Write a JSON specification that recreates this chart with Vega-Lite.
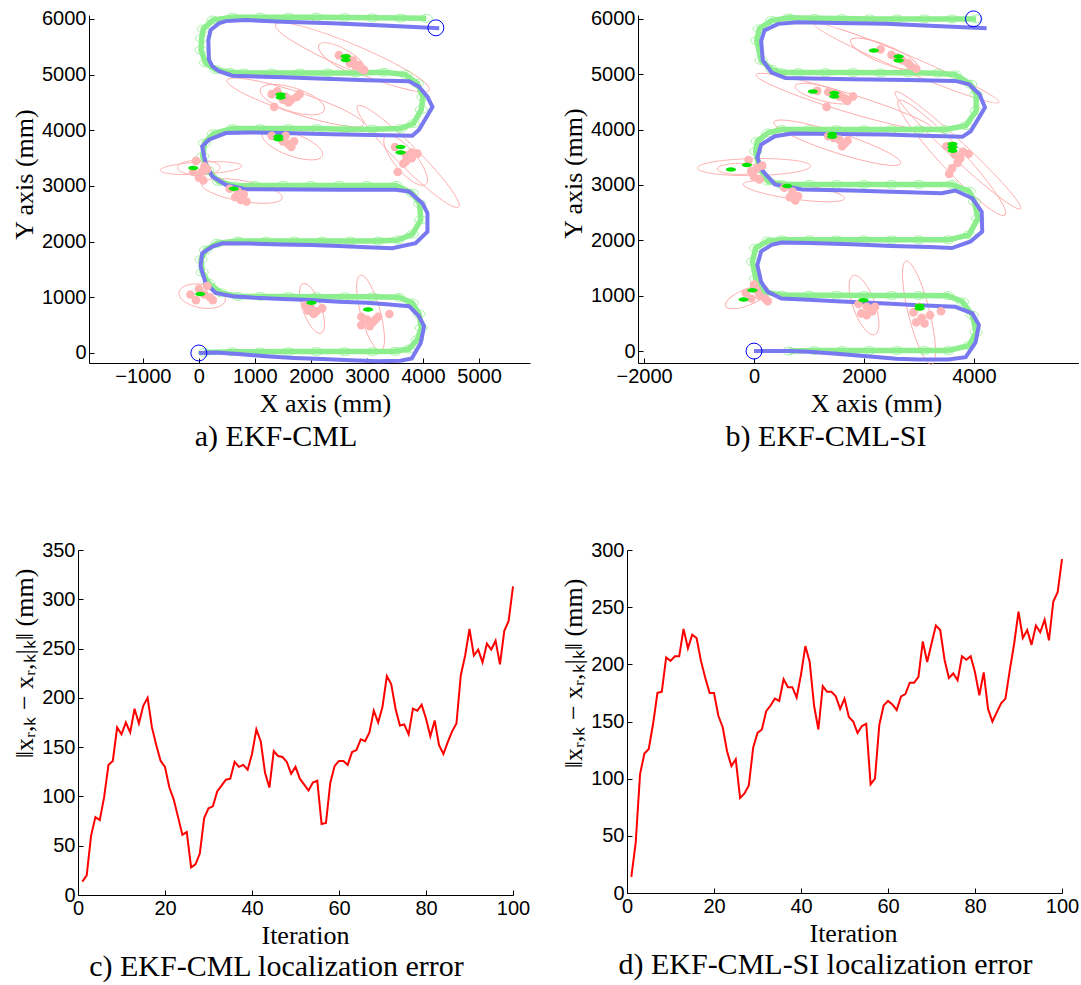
{
"$schema":"https://vega.github.io/schema/vega-lite/v6.json",
"background":"white",
"padding":{"left":11,"top":6,"right":0,"bottom":0},
"config":{
 "view":{"stroke":null},
 "axis":{"grid":false,"domainColor":"#000","tickColor":"#000","domainWidth":1,"tickWidth":1,"tickSize":-5,"labelPadding":8,"labelFont":"Liberation Sans","labelFontSize":20,"labelColor":"#000","labelFlush":false,"labelOverlap":false,"titleFont":"Liberation Serif","titleFontSize":26,"titleFontWeight":"normal","titleColor":"#000"},
 "title":{"font":"Liberation Serif","fontSize":30,"fontWeight":"normal","color":"#000","orient":"bottom","anchor":"middle","frame":"group"}
},
"datasets":{
 "err":[
{"k":1,"c":13.6,"d":14},{"k":2,"c":20,"d":44},{"k":3,"c":60,"d":104},{"k":4,"c":79,"d":122},{"k":5,"c":76,"d":126},{"k":6,"c":99,"d":148},{"k":7,"c":132,"d":175},{"k":8,"c":136,"d":176},{"k":9,"c":170,"d":206},{"k":10,"c":163,"d":203},
{"k":11,"c":175,"d":207},{"k":12,"c":165,"d":207},{"k":13,"c":189,"d":231},{"k":14,"c":174,"d":214},{"k":15,"c":192,"d":226},{"k":16,"c":200,"d":223},{"k":17,"c":170,"d":203},{"k":18,"c":152,"d":188},{"k":19,"c":136,"d":175},{"k":20,"c":130,"d":175},
{"k":21,"c":109,"d":155},{"k":22,"c":97,"d":145},{"k":23,"c":79,"d":124},{"k":24,"c":61,"d":111},{"k":25,"c":64,"d":117},{"k":26,"c":28,"d":83},{"k":27,"c":31,"d":87},{"k":28,"c":42,"d":94},{"k":29,"c":78,"d":127},{"k":30,"c":88,"d":140},
{"k":31,"c":90,"d":143},{"k":32,"c":105,"d":159},{"k":33,"c":111,"d":164},{"k":34,"c":117,"d":170},{"k":35,"c":118,"d":168},{"k":36,"c":135,"d":187},{"k":37,"c":130,"d":180},{"k":38,"c":132,"d":180},{"k":39,"c":127,"d":171},{"k":40,"c":143,"d":191},
{"k":41,"c":168,"d":216},{"k":42,"c":156,"d":202},{"k":43,"c":124,"d":164},{"k":44,"c":109,"d":143},{"k":45,"c":146,"d":181},{"k":46,"c":141,"d":176},{"k":47,"c":140,"d":176},{"k":48,"c":135,"d":172},{"k":49,"c":123,"d":161},{"k":50,"c":130,"d":170},
{"k":51,"c":118,"d":154},{"k":52,"c":112,"d":150},{"k":53,"c":106,"d":140},{"k":54,"c":114,"d":146},{"k":55,"c":116,"d":148},{"k":56,"c":72,"d":95},{"k":57,"c":73,"d":100},{"k":58,"c":114,"d":147},{"k":59,"c":131,"d":164},{"k":60,"c":136,"d":168},
{"k":61,"c":136,"d":165},{"k":62,"c":132,"d":160},{"k":63,"c":145,"d":172},{"k":64,"c":147,"d":174},{"k":65,"c":158,"d":184},{"k":66,"c":156,"d":184},{"k":67,"c":165,"d":189},{"k":68,"c":187,"d":220},{"k":69,"c":175,"d":202},{"k":70,"c":191,"d":218},
{"k":71,"c":222,"d":234},{"k":72,"c":214,"d":230},{"k":73,"c":189,"d":204},{"k":74,"c":172,"d":188},{"k":75,"c":173,"d":192},{"k":76,"c":163,"d":186},{"k":77,"c":189,"d":207},{"k":78,"c":187,"d":204},{"k":79,"c":193,"d":207},{"k":80,"c":179,"d":193},
{"k":81,"c":161,"d":173},{"k":82,"c":177,"d":193},{"k":83,"c":152,"d":161},{"k":84,"c":143,"d":150},{"k":85,"c":155,"d":158},{"k":86,"c":166,"d":166},{"k":87,"c":174,"d":170},{"k":88,"c":223,"d":195},{"k":89,"c":243,"d":218},{"k":90,"c":270,"d":246},
{"k":91,"c":243,"d":223},{"k":92,"c":249,"d":230},{"k":93,"c":236,"d":217},{"k":94,"c":255,"d":234},{"k":95,"c":249,"d":228},{"k":96,"c":258,"d":239},{"k":97,"c":234,"d":221},{"k":98,"c":268,"d":255},{"k":99,"c":278,"d":263},{"k":100,"c":313,"d":292}
 ],
 "blueA":[
{"x":0,"y":0},{"x":300,"y":10},{"x":700,"y":-20},{"x":1200,"y":-60},{"x":1700,"y":-90},{"x":2200,"y":-110},{"x":2700,"y":-130},{"x":3200,"y":-150},{"x":3600,"y":-140},{"x":3800,"y":-100},{"x":3960,"y":180},{"x":4020,"y":480},{"x":3930,"y":660},{"x":3750,"y":840},{"x":3400,"y":870},{"x":3000,"y":900},{"x":2500,"y":920},{"x":2000,"y":950},{"x":1500,"y":970},{"x":1000,"y":990},{"x":600,"y":1020},{"x":300,"y":1080},{"x":120,"y":1260},{"x":30,"y":1560},{"x":60,"y":1790},{"x":240,"y":1910},{"x":420,"y":1970},{"x":900,"y":1965},{"x":1500,"y":1950},{"x":2000,"y":1940},{"x":2500,"y":1920},{"x":3000,"y":1900},{"x":3450,"y":1880},{"x":3870,"y":1970},{"x":4080,"y":2180},{"x":4080,"y":2510},{"x":3990,"y":2690},{"x":3750,"y":2900},{"x":3510,"y":2930},{"x":3000,"y":2930},{"x":2500,"y":2930},{"x":1790,"y":2935},{"x":830,"y":2940},{"x":480,"y":3020},{"x":240,"y":3170},{"x":120,"y":3410},{"x":60,"y":3710},{"x":180,"y":3830},{"x":480,"y":3950},{"x":890,"y":3960},{"x":1500,"y":3950},{"x":2380,"y":3930},{"x":3100,"y":3915},{"x":3810,"y":3900},{"x":3930,"y":4010},{"x":4170,"y":4420},{"x":4080,"y":4600},{"x":3930,"y":4780},{"x":3750,"y":4880},{"x":3000,"y":4900},{"x":2380,"y":4920},{"x":1500,"y":4950},{"x":600,"y":4980},{"x":360,"y":5060},{"x":240,"y":5150},{"x":180,"y":5270},{"x":170,"y":5620},{"x":210,"y":5800},{"x":360,"y":5920},{"x":480,"y":5960},{"x":830,"y":5980},{"x":1500,"y":5950},{"x":2380,"y":5920},{"x":3300,"y":5880},{"x":4290,"y":5830}
 ],
 "greenA":[
{"x":100,"y":10},{"x":600,"y":20},{"x":1100,"y":20},{"x":1600,"y":25},{"x":2100,"y":25},{"x":2600,"y":25},{"x":3100,"y":25},{"x":3500,"y":30},{"x":3750,"y":70},{"x":3900,"y":240},{"x":3970,"y":450},{"x":3930,"y":700},{"x":3810,"y":900},{"x":3570,"y":1000},{"x":3100,"y":1010},{"x":2600,"y":1010},{"x":2100,"y":1010},{"x":1600,"y":1015},{"x":1100,"y":1015},{"x":700,"y":1015},{"x":400,"y":1080},{"x":180,"y":1250},{"x":60,"y":1450},{"x":40,"y":1680},{"x":120,"y":1850},{"x":330,"y":1970},{"x":700,"y":2010},{"x":1200,"y":2010},{"x":1700,"y":2010},{"x":2200,"y":2010},{"x":2700,"y":2010},{"x":3200,"y":2010},{"x":3550,"y":2030},{"x":3810,"y":2130},{"x":3960,"y":2390},{"x":3940,"y":2680},{"x":3810,"y":2870},{"x":3520,"y":3010},{"x":3000,"y":3010},{"x":2500,"y":3010},{"x":2000,"y":3010},{"x":1500,"y":3010},{"x":1000,"y":3010},{"x":650,"y":3000},{"x":350,"y":3080},{"x":160,"y":3280},{"x":70,"y":3530},{"x":100,"y":3770},{"x":260,"y":3940},{"x":600,"y":4030},{"x":1100,"y":4030},{"x":1600,"y":4030},{"x":2100,"y":4030},{"x":2600,"y":4020},{"x":3100,"y":4020},{"x":3600,"y":4030},{"x":3830,"y":4120},{"x":3970,"y":4370},{"x":4000,"y":4600},{"x":3900,"y":4840},{"x":3690,"y":5000},{"x":3300,"y":5040},{"x":2800,"y":5030},{"x":2300,"y":5030},{"x":1800,"y":5030},{"x":1300,"y":5030},{"x":800,"y":5030},{"x":550,"y":5040},{"x":300,"y":5090},{"x":120,"y":5210},{"x":40,"y":5440},{"x":50,"y":5650},{"x":80,"y":5820},{"x":250,"y":5980},{"x":600,"y":6030},{"x":1100,"y":6030},{"x":1600,"y":6030},{"x":2100,"y":6030},{"x":2600,"y":6025},{"x":3100,"y":6020},{"x":3600,"y":6015},{"x":4060,"y":6010}
 ],
 "blueB":[
{"x":0,"y":0},{"x":640,"y":0},{"x":1000,"y":-10},{"x":1500,"y":-50},{"x":2000,"y":-90},{"x":2590,"y":-140},{"x":3000,"y":-150},{"x":3530,"y":-150},{"x":3850,"y":-110},{"x":4030,"y":160},{"x":4090,"y":470},{"x":3970,"y":680},{"x":3660,"y":800},{"x":3000,"y":830},{"x":2400,"y":860},{"x":1500,"y":900},{"x":900,"y":930},{"x":500,"y":950},{"x":250,"y":1070},{"x":130,"y":1250},{"x":60,"y":1555},{"x":130,"y":1800},{"x":320,"y":1920},{"x":500,"y":1960},{"x":1000,"y":1950},{"x":1770,"y":1930},{"x":2500,"y":1900},{"x":3200,"y":1880},{"x":3600,"y":1860},{"x":3940,"y":1980},{"x":4150,"y":2160},{"x":4140,"y":2520},{"x":3970,"y":2760},{"x":3660,"y":2900},{"x":3410,"y":2850},{"x":2500,"y":2880},{"x":1770,"y":2900},{"x":880,"y":2920},{"x":380,"y":3010},{"x":160,"y":3250},{"x":60,"y":3490},{"x":130,"y":3730},{"x":380,"y":3880},{"x":690,"y":3930},{"x":1500,"y":3920},{"x":2400,"y":3910},{"x":3100,"y":3890},{"x":3790,"y":3870},{"x":3940,"y":3970},{"x":4200,"y":4400},{"x":4100,"y":4640},{"x":3910,"y":4820},{"x":3660,"y":4880},{"x":2800,"y":4895},{"x":1770,"y":4910},{"x":570,"y":4930},{"x":320,"y":5030},{"x":160,"y":5250},{"x":130,"y":5600},{"x":190,"y":5790},{"x":440,"y":5910},{"x":790,"y":5940},{"x":1500,"y":5925},{"x":2400,"y":5910},{"x":3300,"y":5870},{"x":4230,"y":5830}
 ],
 "greenB":[
{"x":630,"y":0},{"x":1100,"y":10},{"x":1600,"y":10},{"x":2100,"y":10},{"x":2600,"y":10},{"x":3100,"y":10},{"x":3530,"y":10},{"x":3910,"y":100},{"x":4040,"y":340},{"x":3970,"y":650},{"x":3790,"y":890},{"x":3530,"y":1000},{"x":3000,"y":1005},{"x":2500,"y":1005},{"x":2000,"y":1005},{"x":1500,"y":1010},{"x":1000,"y":1010},{"x":500,"y":1010},{"x":190,"y":1070},{"x":30,"y":1310},{"x":-30,"y":1615},{"x":30,"y":1860},{"x":250,"y":1990},{"x":500,"y":2010},{"x":1000,"y":2010},{"x":1500,"y":2010},{"x":2000,"y":2010},{"x":2500,"y":2010},{"x":3000,"y":2010},{"x":3530,"y":2010},{"x":3910,"y":2100},{"x":4070,"y":2400},{"x":4010,"y":2700},{"x":3910,"y":2890},{"x":3600,"y":3010},{"x":3000,"y":3010},{"x":2500,"y":3010},{"x":2000,"y":3010},{"x":1500,"y":3010},{"x":1000,"y":3010},{"x":500,"y":3010},{"x":250,"y":3070},{"x":95,"y":3310},{"x":30,"y":3610},{"x":60,"y":3790},{"x":250,"y":3940},{"x":500,"y":4000},{"x":1000,"y":4000},{"x":1500,"y":4000},{"x":2000,"y":4000},{"x":2500,"y":4000},{"x":3000,"y":4000},{"x":3470,"y":4000},{"x":3850,"y":4070},{"x":4040,"y":4340},{"x":4040,"y":4640},{"x":3940,"y":4820},{"x":3660,"y":4990},{"x":3340,"y":5020},{"x":2800,"y":5025},{"x":2300,"y":5025},{"x":1800,"y":5030},{"x":1300,"y":5030},{"x":800,"y":5030},{"x":500,"y":5030},{"x":320,"y":5090},{"x":130,"y":5250},{"x":50,"y":5610},{"x":95,"y":5820},{"x":320,"y":5970},{"x":630,"y":6020},{"x":1100,"y":6010},{"x":1600,"y":6005},{"x":2100,"y":6000},{"x":2600,"y":6000},{"x":3100,"y":6000},{"x":3600,"y":6000},{"x":4040,"y":6000}
 ],
 "ellA":[
{"x":2740,"y":5310,"a":1490,"r":"r15","t":-23},{"x":2560,"y":5290,"a":480,"r":"r35","t":-30},{"x":1720,"y":4500,"a":1280,"r":"r15","t":-18},{"x":1670,"y":4550,"a":600,"r":"r35","t":-18},{"x":1670,"y":3740,"a":570,"r":"r35","t":-20},{"x":3735,"y":3530,"a":1276,"r":"r15","t":-45},{"x":3690,"y":3460,"a":560,"r":"r35","t":-50},{"x":40,"y":3320,"a":730,"r":"r15","t":3},{"x":0,"y":3330,"a":380,"r":"r35","t":0},{"x":770,"y":2910,"a":730,"r":"r25","t":-10},{"x":60,"y":1020,"a":420,"r":"r50","t":-10},{"x":2020,"y":800,"a":470,"r":"r35","t":-70},{"x":3065,"y":717,"a":700,"r":"r25","t":-75}
 ],
 "ellB":[
{"x":2776,"y":5200,"a":1790,"r":"r08","t":-23},{"x":2366,"y":5366,"a":646,"r":"r25","t":-22},{"x":1640,"y":4504,"a":1645,"r":"r10","t":-17},{"x":1260,"y":4650,"a":520,"r":"r25","t":-15},{"x":1514,"y":3763,"a":1192,"r":"r15","t":-18},{"x":3706,"y":3627,"a":1531,"r":"r10","t":-43},{"x":3596,"y":3490,"a":1397,"r":"r15","t":-47},{"x":0,"y":3324,"a":1010,"r":"r15","t":1},{"x":-268,"y":3290,"a":394,"r":"r25","t":0},{"x":725,"y":2886,"a":915,"r":"r15","t":-8},{"x":-130,"y":970,"a":410,"r":"r35","t":22},{"x":2000,"y":830,"a":560,"r":"r35","t":-70},{"x":3000,"y":693,"a":950,"r":"r20","t":-76}
 ],
 "cloudA":[
{"x":2500,"y":5350},{"x":2700,"y":5200},{"x":2800,"y":5150},{"x":2900,"y":5100},{"x":2950,"y":5080},{"x":2650,"y":5300},{"x":2750,"y":5250},{"x":2850,"y":5170},
{"x":1300,"y":4650},{"x":1400,"y":4700},{"x":1550,"y":4600},{"x":1650,"y":4550},{"x":1750,"y":4600},{"x":1800,"y":4650},{"x":1600,"y":4500},{"x":1345,"y":4420},{"x":1500,"y":4550},
{"x":1300,"y":3900},{"x":1500,"y":3800},{"x":1600,"y":3750},{"x":1700,"y":3800},{"x":1650,"y":3700},{"x":1550,"y":3900},
{"x":3500,"y":3700},{"x":3700,"y":3550},{"x":3800,"y":3600},{"x":3900,"y":3580},{"x":3650,"y":3400},{"x":3550,"y":3250},{"x":3700,"y":3450},{"x":3800,"y":3500},
{"x":-50,"y":3450},{"x":50,"y":3250},{"x":100,"y":3350},{"x":150,"y":3300},{"x":0,"y":3150},{"x":80,"y":3100},{"x":-100,"y":3250},
{"x":550,"y":2950},{"x":700,"y":2900},{"x":800,"y":2850},{"x":750,"y":2750},{"x":850,"y":2720},{"x":650,"y":2800},
{"x":0,"y":1150},{"x":-150,"y":1050},{"x":100,"y":1050},{"x":200,"y":1000},{"x":-50,"y":950},{"x":150,"y":1200},{"x":250,"y":950},
{"x":1900,"y":850},{"x":2000,"y":800},{"x":2100,"y":750},{"x":2200,"y":800},{"x":2050,"y":700},{"x":1950,"y":760},
{"x":2900,"y":650},{"x":3000,"y":600},{"x":3100,"y":550},{"x":3200,"y":650},{"x":3400,"y":700},{"x":2900,"y":500},{"x":3050,"y":480},{"x":3150,"y":600}
 ],
 "cloudB":[
{"x":2300,"y":5450},{"x":2500,"y":5350},{"x":2700,"y":5250},{"x":2850,"y":5150},{"x":2950,"y":5100},{"x":2800,"y":5200},{"x":2600,"y":5300},
{"x":1150,"y":4700},{"x":1350,"y":4680},{"x":1550,"y":4600},{"x":1650,"y":4560},{"x":1800,"y":4600},{"x":1700,"y":4520},{"x":1320,"y":4410},{"x":1450,"y":4640},
{"x":1350,"y":3880},{"x":1550,"y":3820},{"x":1650,"y":3750},{"x":1700,"y":3800},{"x":1600,"y":3700},{"x":1450,"y":3850},
{"x":3500,"y":3700},{"x":3650,"y":3550},{"x":3800,"y":3600},{"x":3900,"y":3560},{"x":3700,"y":3400},{"x":3600,"y":3300},{"x":3550,"y":3200},{"x":3750,"y":3480},
{"x":-100,"y":3450},{"x":50,"y":3300},{"x":150,"y":3350},{"x":0,"y":3150},{"x":100,"y":3100},{"x":-50,"y":3250},
{"x":550,"y":2950},{"x":700,"y":2880},{"x":800,"y":2800},{"x":750,"y":2720},{"x":650,"y":2780},
{"x":0,"y":1200},{"x":-150,"y":1050},{"x":100,"y":1000},{"x":200,"y":950},{"x":250,"y":900},{"x":-50,"y":950},{"x":50,"y":1100},
{"x":1900,"y":850},{"x":2050,"y":800},{"x":2150,"y":720},{"x":2200,"y":800},{"x":1950,"y":680},{"x":2050,"y":650},
{"x":2900,"y":700},{"x":3050,"y":600},{"x":3200,"y":650},{"x":3400,"y":720},{"x":2950,"y":520},{"x":3100,"y":500},{"x":3000,"y":800}
 ],
 "lmA":[
{"x":2620,"y":5330},{"x":2620,"y":5260},{"x":1460,"y":4640},{"x":1460,"y":4590},{"x":1420,"y":3890},{"x":1420,"y":3840},{"x":3600,"y":3700},{"x":3600,"y":3600},{"x":-100,"y":3320},{"x":625,"y":2950},{"x":24,"y":1060},{"x":2010,"y":900},{"x":3020,"y":780}
 ],
 "lmB":[
{"x":2630,"y":5320},{"x":2630,"y":5250},{"x":2180,"y":5430},{"x":1460,"y":4660},{"x":1460,"y":4600},{"x":1070,"y":4690},{"x":1420,"y":3920},{"x":1420,"y":3870},{"x":3610,"y":3740},{"x":3610,"y":3680},{"x":3610,"y":3620},{"x":-130,"y":3360},{"x":-420,"y":3280},{"x":600,"y":2980},{"x":-30,"y":1100},{"x":-190,"y":930},{"x":1990,"y":920},{"x":3010,"y":820},{"x":3010,"y":770}
 ],
 "endsA":[{"x":0,"y":0},{"x":4230,"y":5840}],
 "endsB":[{"x":0,"y":0},{"x":3990,"y":6000}]
},
"spacing":88,
"vconcat":[
 {"spacing":30,"hconcat":[
  {"width":452,"height":348,
   "title":{"text":"a) EKF-CML","dx":-28,"offset":6},
   "encoding":{
    "x":{"field":"x","type":"quantitative","scale":{"domain":[-1960,5910],"range":[11,452],"nice":false,"zero":false},"axis":{"values":[-1000,0,1000,2000,3000,4000,5000],"format":"d","title":"X axis (mm)","titleX":247}},
    "y":{"field":"y","type":"quantitative","scale":{"domain":[-180,6070],"nice":false,"zero":false},"axis":{"values":[0,1000,2000,3000,4000,5000,6000],"format":"d","title":"Y axis (mm)","titleY":159,"offset":-11}}
   },
   "layer":[
    {"data":{"name":"ellA"},"mark":{"type":"point","filled":false,"stroke":"#ffaaaa","strokeWidth":0.9,"opacity":1},
     "encoding":{
      "shape":{"field":"r","type":"nominal","legend":null,"scale":{"domain":["r08","r10","r15","r20","r25","r35","r50"],"range":[
"M-1,0C-1,-0.0442,-0.5523,-0.08,0,-0.08C0.5523,-0.08,1,-0.0442,1,0C1,0.0442,0.5523,0.08,0,0.08C-0.5523,0.08,-1,0.0442,-1,0Z",
"M-1,0C-1,-0.0552,-0.5523,-0.1,0,-0.1C0.5523,-0.1,1,-0.0552,1,0C1,0.0552,0.5523,0.1,0,0.1C-0.5523,0.1,-1,0.0552,-1,0Z",
"M-1,0C-1,-0.0828,-0.5523,-0.15,0,-0.15C0.5523,-0.15,1,-0.0828,1,0C1,0.0828,0.5523,0.15,0,0.15C-0.5523,0.15,-1,0.0828,-1,0Z",
"M-1,0C-1,-0.1105,-0.5523,-0.2,0,-0.2C0.5523,-0.2,1,-0.1105,1,0C1,0.1105,0.5523,0.2,0,0.2C-0.5523,0.2,-1,0.1105,-1,0Z",
"M-1,0C-1,-0.1381,-0.5523,-0.25,0,-0.25C0.5523,-0.25,1,-0.1381,1,0C1,0.1381,0.5523,0.25,0,0.25C-0.5523,0.25,-1,0.1381,-1,0Z",
"M-1,0C-1,-0.1933,-0.5523,-0.35,0,-0.35C0.5523,-0.35,1,-0.1933,1,0C1,0.1933,0.5523,0.35,0,0.35C-0.5523,0.35,-1,0.1933,-1,0Z",
"M-1,0C-1,-0.2762,-0.5523,-0.5,0,-0.5C0.5523,-0.5,1,-0.2762,1,0C1,0.2762,0.5523,0.5,0,0.5C-0.5523,0.5,-1,0.2762,-1,0Z"]}},
      "size":{"field":"a","type":"quantitative","legend":null,"scale":{"type":"pow","exponent":2,"domain":[0,1000],"range":[0,12544]}},
      "angle":{"field":"t","type":"quantitative","scale":{"domain":[-90,90],"range":[90,-90]}}
     }},
    {"data":{"name":"greenA"},"mark":{"type":"line","color":"#8cee8c","strokeWidth":5.5},"encoding":{"order":{"value":null}}},
    {"data":{"name":"greenA"},"mark":{"type":"point","shape":"M-1,0C-1,-0.359,-0.5523,-0.65,0,-0.65C0.5523,-0.65,1,-0.359,1,0C1,0.359,0.5523,0.65,0,0.65C-0.5523,0.65,-1,0.359,-1,0Z","size":144,"filled":false,"stroke":"#8cee8c","strokeWidth":0.8,"opacity":1}},
    {"data":{"name":"blueA"},"mark":{"type":"line","color":"#7878f0","strokeWidth":4},"encoding":{"order":{"value":null}}},
    {"data":{"name":"cloudA"},"mark":{"type":"circle","color":"#ffb6b6","size":75,"opacity":1}},
    {"data":{"name":"lmA"},"mark":{"type":"point","shape":"M-1,0C-1,-0.2485,-0.5523,-0.45,0,-0.45C0.5523,-0.45,1,-0.2485,1,0C1,0.2485,0.5523,0.45,0,0.45C-0.5523,0.45,-1,0.2485,-1,0Z","size":100,"filled":true,"color":"#00e400","opacity":1}},
    {"data":{"name":"endsA"},"mark":{"type":"point","shape":"circle","size":254,"filled":false,"stroke":"#0000ff","strokeWidth":1,"opacity":1}}
   ]
  },
  {"width":452,"height":348,
   "title":{"text":"b) EKF-CML-SI","dx":-27,"offset":6},
   "encoding":{
    "x":{"field":"x","type":"quantitative","scale":{"domain":[-2110,5910],"range":[11,452],"nice":false,"zero":false},"axis":{"values":[-2000,0,2000,4000],"format":"d","title":"X axis (mm)","titleX":249}},
    "y":{"field":"y","type":"quantitative","scale":{"domain":[-215,6070],"nice":false,"zero":false},"axis":{"values":[0,1000,2000,3000,4000,5000,6000],"format":"d","title":"Y axis (mm)","titleY":158,"offset":-11}}
   },
   "layer":[
    {"data":{"name":"ellB"},"mark":{"type":"point","filled":false,"stroke":"#ffaaaa","strokeWidth":0.9,"opacity":1},
     "encoding":{
      "shape":{"field":"r","type":"nominal","legend":null,"scale":{"domain":["r08","r10","r15","r20","r25","r35","r50"],"range":[
"M-1,0C-1,-0.0442,-0.5523,-0.08,0,-0.08C0.5523,-0.08,1,-0.0442,1,0C1,0.0442,0.5523,0.08,0,0.08C-0.5523,0.08,-1,0.0442,-1,0Z",
"M-1,0C-1,-0.0552,-0.5523,-0.1,0,-0.1C0.5523,-0.1,1,-0.0552,1,0C1,0.0552,0.5523,0.1,0,0.1C-0.5523,0.1,-1,0.0552,-1,0Z",
"M-1,0C-1,-0.0828,-0.5523,-0.15,0,-0.15C0.5523,-0.15,1,-0.0828,1,0C1,0.0828,0.5523,0.15,0,0.15C-0.5523,0.15,-1,0.0828,-1,0Z",
"M-1,0C-1,-0.1105,-0.5523,-0.2,0,-0.2C0.5523,-0.2,1,-0.1105,1,0C1,0.1105,0.5523,0.2,0,0.2C-0.5523,0.2,-1,0.1105,-1,0Z",
"M-1,0C-1,-0.1381,-0.5523,-0.25,0,-0.25C0.5523,-0.25,1,-0.1381,1,0C1,0.1381,0.5523,0.25,0,0.25C-0.5523,0.25,-1,0.1381,-1,0Z",
"M-1,0C-1,-0.1933,-0.5523,-0.35,0,-0.35C0.5523,-0.35,1,-0.1933,1,0C1,0.1933,0.5523,0.35,0,0.35C-0.5523,0.35,-1,0.1933,-1,0Z",
"M-1,0C-1,-0.2762,-0.5523,-0.5,0,-0.5C0.5523,-0.5,1,-0.2762,1,0C1,0.2762,0.5523,0.5,0,0.5C-0.5523,0.5,-1,0.2762,-1,0Z"]}},
      "size":{"field":"a","type":"quantitative","legend":null,"scale":{"type":"pow","exponent":2,"domain":[0,1000],"range":[0,12544]}},
      "angle":{"field":"t","type":"quantitative","scale":{"domain":[-90,90],"range":[90,-90]}}
     }},
    {"data":{"name":"greenB"},"mark":{"type":"line","color":"#8cee8c","strokeWidth":5.5},"encoding":{"order":{"value":null}}},
    {"data":{"name":"greenB"},"mark":{"type":"point","shape":"M-1,0C-1,-0.359,-0.5523,-0.65,0,-0.65C0.5523,-0.65,1,-0.359,1,0C1,0.359,0.5523,0.65,0,0.65C-0.5523,0.65,-1,0.359,-1,0Z","size":144,"filled":false,"stroke":"#8cee8c","strokeWidth":0.8,"opacity":1}},
    {"data":{"name":"blueB"},"mark":{"type":"line","color":"#7878f0","strokeWidth":4},"encoding":{"order":{"value":null}}},
    {"data":{"name":"cloudB"},"mark":{"type":"circle","color":"#ffb6b6","size":75,"opacity":1}},
    {"data":{"name":"lmB"},"mark":{"type":"point","shape":"M-1,0C-1,-0.2485,-0.5523,-0.45,0,-0.45C0.5523,-0.45,1,-0.2485,1,0C1,0.2485,0.5523,0.45,0,0.45C-0.5523,0.45,-1,0.2485,-1,0Z","size":100,"filled":true,"color":"#00e400","opacity":1}},
    {"data":{"name":"endsB"},"mark":{"type":"point","shape":"circle","size":254,"filled":false,"stroke":"#0000ff","strokeWidth":1,"opacity":1}}
   ]
  }
 ]},
 {"spacing":30,"hconcat":[
  {"width":435,"height":345,
   "title":{"text":"c) EKF-CML localization error","dx":-19,"offset":4},
   "data":{"name":"err"},
   "mark":{"type":"line","color":"#ff0000","strokeWidth":2},
   "encoding":{
    "x":{"field":"k","type":"quantitative","scale":{"domain":[0,100],"nice":false},"axis":{"values":[0,20,40,60,80,100],"title":"Iteration","titleX":227}},
    "y":{"field":"c","type":"quantitative","scale":{"domain":[0,350],"nice":false},"axis":{"values":[0,50,100,150,200,250,300,350],"title":"‖xᵣ,ₖ − xᵣ,ₖ|ₖ‖ (mm)","titleY":113}}
   }
  },
  {"width":435,"height":343,
   "title":{"text":"d) EKF-CML-SI localization error","dx":-19,"offset":4},
   "data":{"name":"err"},
   "mark":{"type":"line","color":"#ff0000","strokeWidth":2},
   "encoding":{
    "x":{"field":"k","type":"quantitative","scale":{"domain":[0,100],"nice":false},"axis":{"values":[0,20,40,60,80,100],"title":"Iteration","titleX":226}},
    "y":{"field":"d","type":"quantitative","scale":{"domain":[0,300],"nice":false},"axis":{"values":[0,50,100,150,200,250,300],"title":"‖xᵣ,ₖ − xᵣ,ₖ|ₖ‖ (mm)","titleY":123}}
   }
  }
 ]}
]
}
